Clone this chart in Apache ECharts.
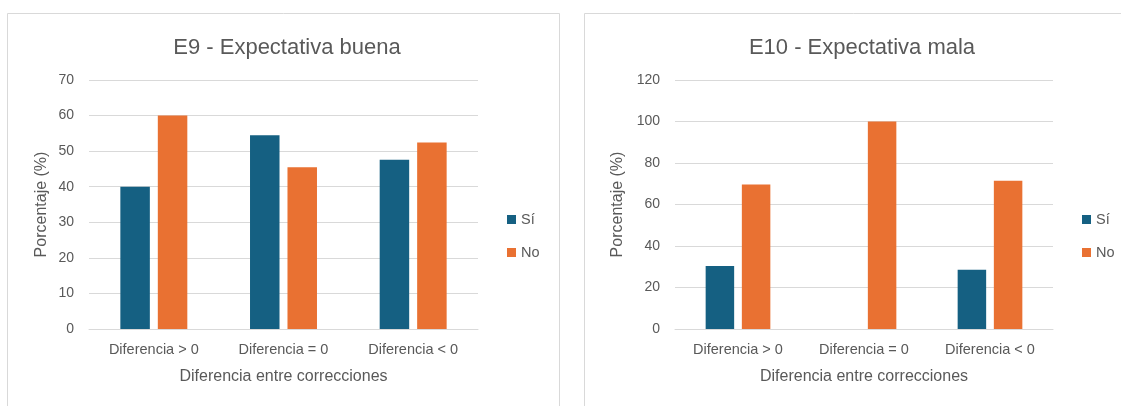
<!DOCTYPE html>
<html>
<head>
<meta charset="utf-8">
<script src="https://cdn.jsdelivr.net/npm/echarts@6/dist/echarts.min.js"></script>
<style>
  html, body { margin: 0; padding: 0; background: #ffffff; }
  #chart { width: 1121px; height: 406px; }
</style>
</head>
<body>
<div id="chart"></div>
<script>
// Categories shared by both panels
const categories = ['Diferencia > 0', 'Diferencia = 0', 'Diferencia < 0'];
const seriesNames = ['Sí', 'No'];

// E9 - Expectativa buena (%)
const e9Si = [40.0, 54.5, 47.6];
const e9No = [60.0, 45.5, 52.4];

// E10 - Expectativa mala (%)
const e10Si = [30.4, 0, 28.6];
const e10No = [69.6, 100, 71.4];

// Y axis ranges
const e9Axis = { min: 0, max: 70, interval: 10 };
const e10Axis = { min: 0, max: 120, interval: 20 };

const titles = ['E9 - Expectativa buena', 'E10 - Expectativa mala'];
const xAxisTitle = 'Diferencia entre correcciones';
const yAxisTitle = 'Porcentaje (%)';

const COLOR_SI = '#156082';
const COLOR_NO = '#E97132';
const TEXT = '#595959';
const GRID = '#D9D9D9';
const FONT = '"Liberation Sans", Arial, sans-serif';

const chart = echarts.init(document.getElementById('chart'), null, { renderer: 'canvas' });

function xAxisFor(gridIndex) {
  return {
    type: 'category',
    gridIndex: gridIndex,
    data: categories,
    axisTick: { show: false },
    axisLine: { show: true, lineStyle: { color: GRID, width: 1 } },
    axisLabel: { color: TEXT, fontSize: 14.5, fontFamily: FONT, margin: 13 },
    name: xAxisTitle,
    nameLocation: 'middle',
    nameGap: 40,
    nameTextStyle: { color: TEXT, fontSize: 16, fontFamily: FONT }
  };
}

function yAxisFor(gridIndex, range, nameGap) {
  return {
    type: 'value',
    gridIndex: gridIndex,
    min: range.min,
    max: range.max,
    interval: range.interval,
    axisLine: { show: false },
    axisTick: { show: false },
    splitLine: { show: true, lineStyle: { color: GRID, width: 1 } },
    axisLabel: { color: TEXT, fontSize: 14, fontFamily: FONT, margin: 15 },
    name: yAxisTitle,
    nameLocation: 'middle',
    nameGap: nameGap,
    nameTextStyle: { color: TEXT, fontSize: 16, fontFamily: FONT }
  };
}

function barSeries(name, data, color, axisIndex, width) {
  return {
    type: 'bar',
    name: name,
    data: data,
    xAxisIndex: axisIndex,
    yAxisIndex: axisIndex,
    barWidth: width,
    barGap: '27%',
    itemStyle: { color: color },
    emphasis: { disabled: true },
    animation: false
  };
}

function legendAt(left) {
  return {
    data: seriesNames,
    orient: 'vertical',
    left: left,
    top: 212,
    padding: 0,
    icon: 'rect',
    itemWidth: 9,
    itemHeight: 9,
    itemGap: 18,
    selectedMode: false,
    textStyle: { color: TEXT, fontSize: 14.5, fontFamily: FONT }
  };
}

const option = {
  backgroundColor: '#ffffff',
  animation: false,
  graphic: [
    { type: 'rect', shape: { x: 7.5, y: 13.5, width: 552, height: 420 },
      style: { fill: 'none', stroke: GRID, lineWidth: 1 }, silent: true },
    { type: 'rect', shape: { x: 584.5, y: 13.5, width: 600, height: 420 },
      style: { fill: 'none', stroke: GRID, lineWidth: 1 }, silent: true }
  ],
  title: [
    { text: titles[0], left: 282, top: 32, textAlign: 'center',
      textStyle: { color: TEXT, fontSize: 22, fontWeight: 'normal', fontFamily: FONT } },
    { text: titles[1], left: 857, top: 32, textAlign: 'center',
      textStyle: { color: TEXT, fontSize: 22, fontWeight: 'normal', fontFamily: FONT } }
  ],
  legend: [legendAt(507), legendAt(1082)],
  grid: [
    { left: 89, top: 80, width: 389, height: 249 },
    { left: 675, top: 80, width: 378, height: 249 }
  ],
  xAxis: [xAxisFor(0), xAxisFor(1)],
  yAxis: [yAxisFor(0, e9Axis, 39), yAxisFor(1, e10Axis, 49)],
  series: [
    barSeries(seriesNames[0], e9Si, COLOR_SI, 0, 29.5),
    barSeries(seriesNames[1], e9No, COLOR_NO, 0, 29.5),
    barSeries(seriesNames[0], e10Si, COLOR_SI, 1, 28.5),
    barSeries(seriesNames[1], e10No, COLOR_NO, 1, 28.5)
  ]
};

chart.setOption(option);
</script>
</body>
</html>
